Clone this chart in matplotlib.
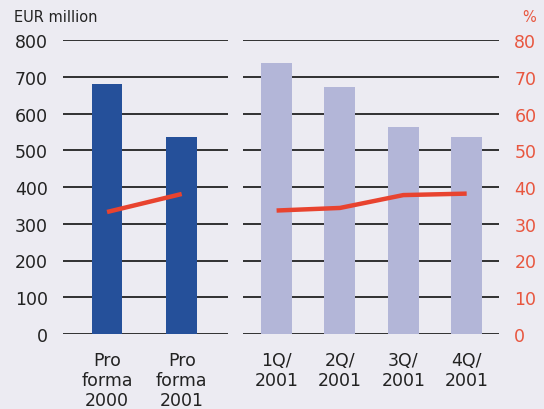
import matplotlib
matplotlib.use('Agg')
import matplotlib.pyplot as plt

plt.rcParams['font.family'] = ['DejaVu Sans']

# --- Data ---
left_labels = ["Pro\nforma\n2000", "Pro\nforma\n2001"]
left_values = [680, 536]
left_pct = [33.2, 38.1]

right_labels = ["1Q/\n2001", "2Q/\n2001", "3Q/\n2001", "4Q/\n2001"]
right_values = [737, 672, 563, 536]
right_pct = [33.6, 34.3, 37.8, 38.2]

eur_ticks = [0, 100, 200, 300, 400, 500, 600, 700, 800]
pct_ticks = [0, 10, 20, 30, 40, 50, 60, 70, 80]

BG = "#ecebf2"
DARK = "#25509a"
LIGHT = "#b3b6d8"
RED = "#e8432f"
RED_TXT = "#e8563f"
TXT = "#222222"
FS = 12.5

W, H = 544, 410
fig = plt.figure(figsize=(W / 100, H / 100), dpi=100, facecolor=BG)

y0, y1 = 335, 41
bottom = (H - y0) / H
height = (y0 - y1) / H

ax_l = fig.add_axes([63 / W, bottom, (228 - 63) / W, height])
ax_r = fig.add_axes([243 / W, bottom, (499 - 243) / W, height])


def style(ax):
    ax.set_facecolor("none")
    for sp in ax.spines.values():
        sp.set_visible(False)
    ax.set_ylim(0, 800)
    ax.set_yticks(eur_ticks)
    ax.tick_params(length=0)
    ax.grid(axis="y", color="#111111", lw=1.2, zorder=0)
    ax.set_axisbelow(True)


style(ax_l)
style(ax_r)

xl = range(len(left_values))
ax_l.bar(xl, left_values, width=0.41, color=DARK, zorder=2)
ax_l.set_xlim(-0.59, 1.62)
ax_l.set_xticks(list(xl))
ax_l.set_xticklabels(left_labels, fontsize=FS, color=TXT, linespacing=1.15)
ax_l.tick_params(axis="x", pad=12)
ax_l.tick_params(axis="y", labelsize=FS, labelcolor=TXT, pad=11)

xr = range(len(right_values))
ax_r.bar(xr, right_values, width=0.49, color=LIGHT, zorder=2)
ax_r.set_xlim(-0.53, 3.51)
ax_r.set_xticks(list(xr))
ax_r.set_xticklabels(right_labels, fontsize=FS, color=TXT, linespacing=1.15)
ax_r.tick_params(axis="x", pad=12)
ax_r.set_yticklabels([])

# percentage lines
tl = ax_l.twinx()
tl.set_ylim(0, 80)
tl.axis("off")
tl.plot(list(xl), left_pct, color=RED, lw=3.2, solid_capstyle="butt", zorder=3)

tr = ax_r.twinx()
tr.set_ylim(0, 80)
for sp in tr.spines.values():
    sp.set_visible(False)
tr.set_yticks(pct_ticks)
tr.tick_params(length=0, labelsize=FS, labelcolor=RED_TXT, pad=11)
tr.plot(list(xr), right_pct, color=RED, lw=3.2, solid_capstyle="butt", zorder=3)

fig.text(14 / W, 1 - 17 / H, "EUR million", fontsize=10.5, color=TXT, va="center")
fig.text(536 / W, 1 - 17 / H, "%", fontsize=10.5, color=RED_TXT, va="center", ha="right")

fig.savefig("out.png", dpi=100, facecolor=BG)
